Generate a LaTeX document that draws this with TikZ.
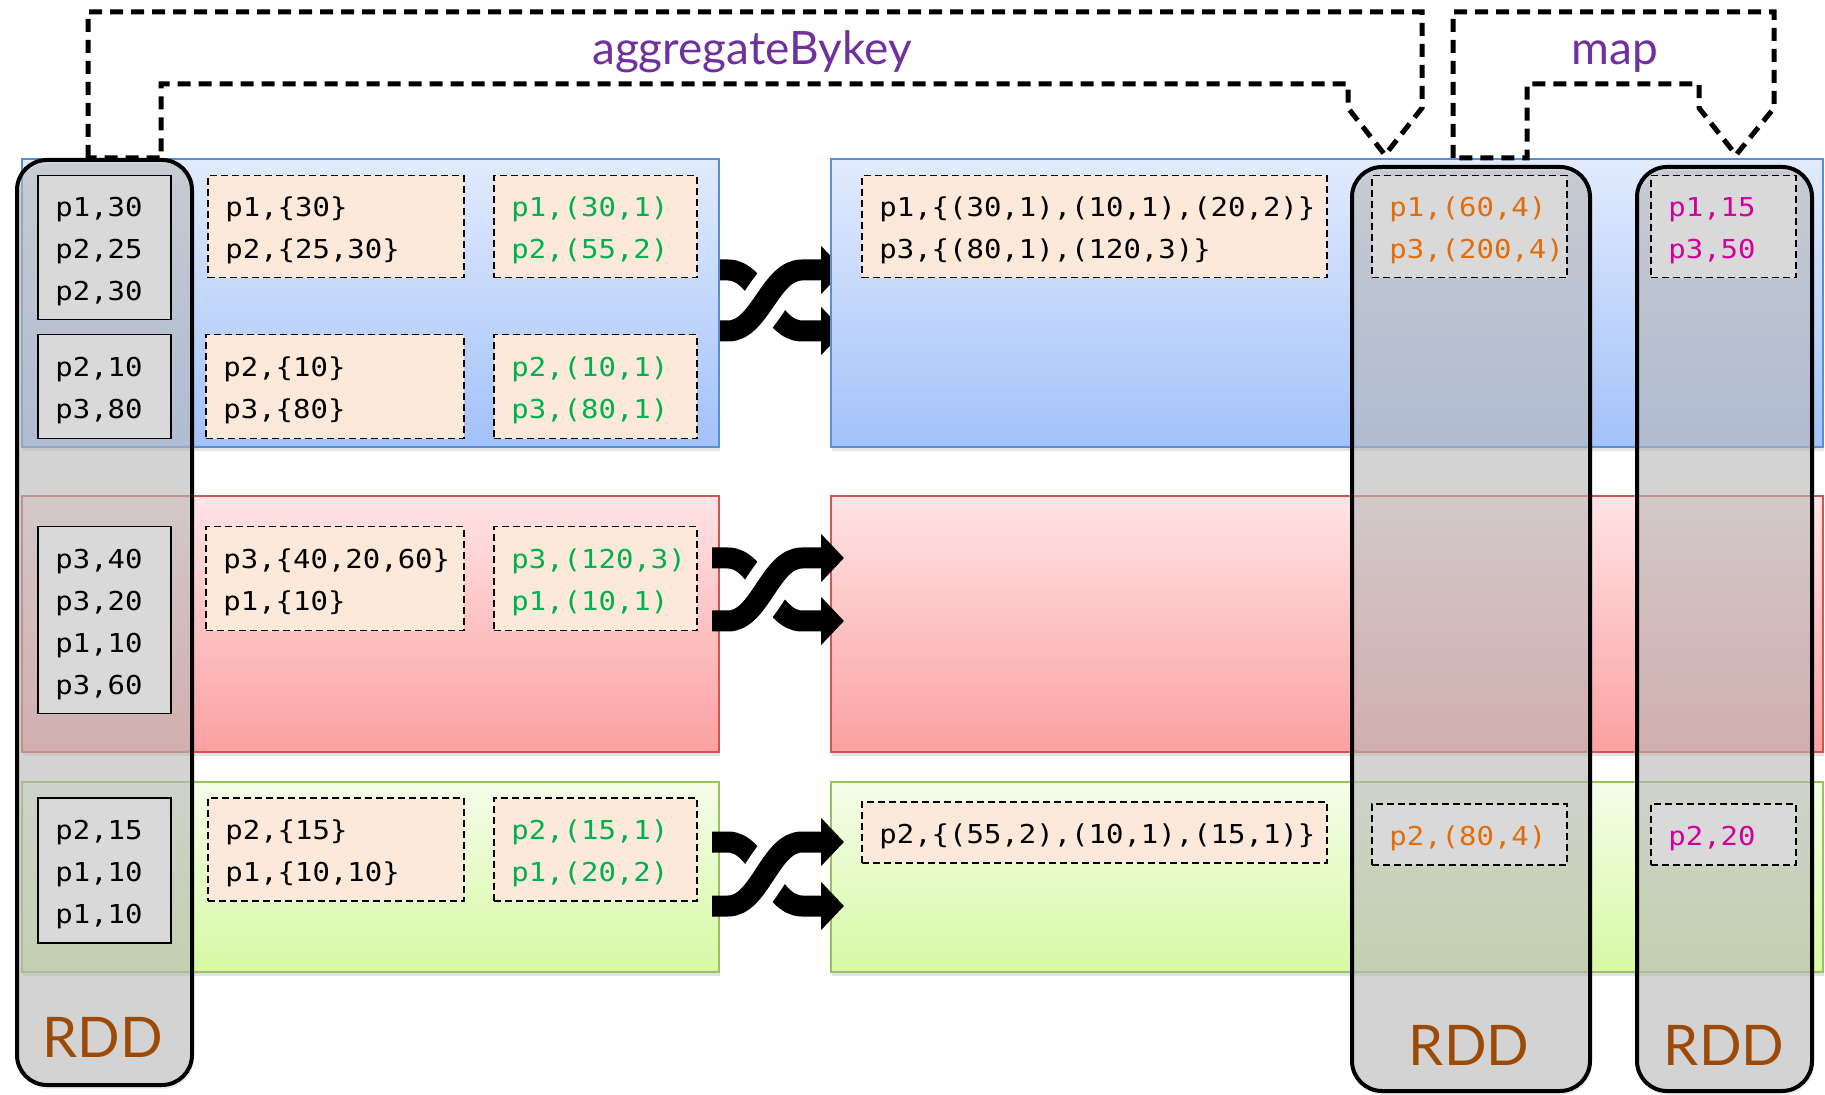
\documentclass[tikz,border=0pt]{standalone}
\usepackage{fontspec}
\usetikzlibrary{arrows.meta,shadows}
\newfontfamily\monof[FakeStretch=1.114]{DejaVu Sans Mono}
\newfontfamily\labf{Lato}
\definecolor{bluetop}{HTML}{E2EBFD}
\definecolor{bluebot}{HTML}{A3C2F9}
\definecolor{blueline}{HTML}{5A8ED0}
\definecolor{redtop}{HTML}{FFE4E6}
\definecolor{redbot}{HTML}{FBA1A1}
\definecolor{redline}{HTML}{D05555}
\definecolor{greentop}{HTML}{F5FDEA}
\definecolor{greenbot}{HTML}{D7F9A4}
\definecolor{greenline}{HTML}{9BC15A}
\definecolor{boxgray}{HTML}{D9D9D9}
\definecolor{peachc}{HTML}{FCE9DA}
\definecolor{greent}{HTML}{00B050}
\definecolor{oranget}{HTML}{E36C09}
\definecolor{magentat}{HTML}{D1009B}
\definecolor{oppurple}{HTML}{7030A0}
\definecolor{rddbrown}{HTML}{9C4A06}
\newcommand\myshuffle[3]{%
  \coordinate (#1a) at (712,#2);
  \coordinate (#1b) at (712,#3);
  \coordinate (#1c) at (844,#2);
  \coordinate (#1d) at (844,#3);
  \draw[shuf] (#1a) -- (728,#2) .. controls (760,#2) and (770,#3) .. (802,#3) -- (#1d);
  \draw[line width=22pt, white] (728,#3) .. controls (760,#3) and (770,#2) .. (802,#2);
  \draw[shuf] (#1b) -- (728,#3) .. controls (760,#3) and (770,#2) .. (802,#2) -- (#1c);
}
\begin{document}
\begin{tikzpicture}[x=0.5pt,y=-0.5pt,
  bandbase/.style={line width=0.8pt, anchor=north west, inner sep=0pt,
     drop shadow={shadow xshift=0.8pt, shadow yshift=-2pt, opacity=0.22}},
  bandb/.style={bandbase, draw=blueline, top color=bluetop, bottom color=bluebot},
  bandr/.style={bandbase, draw=redline, top color=redtop, bottom color=redbot},
  bandg/.style={bandbase, draw=greenline, top color=greentop, bottom color=greenbot},
  rdd/.style={draw, line width=2pt, rounded corners=15pt, fill=black!25, fill opacity=0.55,
     anchor=north west, inner sep=0pt,
     drop shadow={shadow xshift=0.8pt, shadow yshift=-2pt, opacity=0.15}},
  databox/.style={draw, line width=0.75pt, fill=boxgray, anchor=north west, inner sep=0pt},
  dbox/.style={draw, line width=0.75pt, dash pattern=on 3.5pt off 2pt, anchor=north west, inner sep=0pt},
  peach/.style={dbox, fill=peachc},
  grayd/.style={dbox, fill=boxgray},
  txt/.style={font={\monof\fontsize{13}{21}\selectfont}, align=left, anchor=west, inner sep=0pt, xshift=9pt, yshift=-2pt},
  rddlab/.style={font={\labf\fontsize{28}{30}\selectfont}, text=rddbrown, anchor=base, inner sep=0pt},
  oplab/.style={font={\labf\fontsize{23}{25}\selectfont}, text=oppurple, anchor=base, inner sep=0pt},
  dasharr/.style={line width=2.5pt, dash pattern=on 6.5pt off 4pt},
  shuf/.style={line width=10.5pt, -{Triangle[length=11.5pt,width=23.5pt]}}
]
\useasboundingbox (0,0) rectangle (1825,1095);

% shuffle under the blue bands
\myshuffle{sb}{270}{331}

% bands
\node[bandb, minimum width=348.5pt, minimum height=144pt] (bL) at (21,158) {};
\node[bandb, minimum width=496pt, minimum height=144pt] (bR) at (830,158) {};
\node[bandr, minimum width=348.5pt, minimum height=128pt] (rL) at (21,495) {};
\node[bandr, minimum width=496pt, minimum height=128pt] (rR) at (830,495) {};
\node[bandg, minimum width=348.5pt, minimum height=95pt] (gL) at (21,781) {};
\node[bandg, minimum width=496pt, minimum height=95pt] (gR) at (830,781) {};

% shuffles over red and green bands
\myshuffle{sr}{558}{621}
\myshuffle{sg}{842}{906}

% dashed block arrows
\coordinate (a1) at (88,158);
\coordinate (a2) at (161,158);
\coordinate (at) at (1385,155);
\draw[dasharr] (a1) -- (88,12) -- (1422,12) -- (1422,108) -- (at) -- (1348,108) -- (1348,84) -- (161,84) -- (a2) -- cycle;
\coordinate (m1) at (1453,158);
\coordinate (m2) at (1527,158);
\coordinate (mt) at (1736,155);
\draw[dasharr] (m1) -- (1453,12) -- (1774,12) -- (1774,108) -- (mt) -- (1699,108) -- (1699,84) -- (1527,84) -- (m2) -- cycle;

% RDD columns
\node[rdd, minimum width=87.5pt, minimum height=462.5pt] (rdd1) at (15,158) {};
\node[rdd, minimum width=119pt, minimum height=462pt] (rdd2) at (1350,165) {};
\node[rdd, minimum width=87.5pt, minimum height=462pt] (rdd3) at (1635,165) {};

% left data boxes
\node[databox, minimum width=66.5pt, minimum height=72pt] (d1) at (37,175) {};
\node[txt] (td1) at (d1.west) {p1,30\\p2,25\\p2,30};
\node[databox, minimum width=66.5pt, minimum height=52pt] (d2) at (37,334) {};
\node[txt] (td2) at (d2.west) {p2,10\\p3,80};
\node[databox, minimum width=66.5pt, minimum height=93.5pt] (d3) at (37,526) {};
\node[txt] (td3) at (d3.west) {p3,40\\p3,20\\p1,10\\p3,60};
\node[databox, minimum width=66.5pt, minimum height=72.5pt] (d4) at (37,797) {};
\node[txt] (td4) at (d4.west) {p2,15\\p1,10\\p1,10};

% grouped boxes
\node[peach, minimum width=128pt, minimum height=51pt] (g1) at (207,175) {};
\node[txt] (tg1) at (g1.west) {p1,\{30\}\\p2,\{25,30\}};
\node[peach, minimum width=129pt, minimum height=52pt] (g2) at (205,334) {};
\node[txt] (tg2) at (g2.west) {p2,\{10\}\\p3,\{80\}};
\node[peach, minimum width=129pt, minimum height=52pt] (g3) at (205,526) {};
\node[txt] (tg3) at (g3.west) {p3,\{40,20,60\}\\p1,\{10\}};
\node[peach, minimum width=128pt, minimum height=51.5pt] (g4) at (207,797) {};
\node[txt] (tg4) at (g4.west) {p2,\{15\}\\p1,\{10,10\}};

% combined boxes
\node[peach, minimum width=101.5pt, minimum height=51pt] (c1) at (493,175) {};
\node[txt, text=greent] (tc1) at (c1.west) {p1,(30,1)\\p2,(55,2)};
\node[peach, minimum width=101.5pt, minimum height=52pt] (c2) at (493,334) {};
\node[txt, text=greent] (tc2) at (c2.west) {p2,(10,1)\\p3,(80,1)};
\node[peach, minimum width=101.5pt, minimum height=52pt] (c3) at (493,526) {};
\node[txt, text=greent] (tc3) at (c3.west) {p3,(120,3)\\p1,(10,1)};
\node[peach, minimum width=101.5pt, minimum height=51.5pt] (c4) at (493,797) {};
\node[txt, text=greent] (tc4) at (c4.west) {p2,(15,1)\\p1,(20,2)};

% shuffled boxes
\node[peach, minimum width=232.5pt, minimum height=51pt] (s1) at (861,175) {};
\node[txt] (ts1) at (s1.west) {p1,\{(30,1),(10,1),(20,2)\}\\p3,\{(80,1),(120,3)\}};
\node[peach, minimum width=232.5pt, minimum height=30.5pt] (s2) at (861,801) {};
\node[txt] (ts2) at (s2.west) {p2,\{(55,2),(10,1),(15,1)\}};

% aggregated
\node[grayd, minimum width=97.5pt, minimum height=51pt] (o1) at (1371,175) {};
\node[txt, text=oranget] (to1) at (o1.west) {p1,(60,4)\\p3,(200,4)};
\node[grayd, minimum width=97.5pt, minimum height=30.5pt] (o2) at (1371,803) {};
\node[txt, text=oranget] (to2) at (o2.west) {p2,(80,4)};

% mapped
\node[grayd, minimum width=72.5pt, minimum height=51pt] (p1) at (1650,175) {};
\node[txt, text=magentat] (tp1) at (p1.west) {p1,15\\p3,50};
\node[grayd, minimum width=72.5pt, minimum height=30.5pt] (p2) at (1650,803) {};
\node[txt, text=magentat] (tp2) at (p2.west) {p2,20};

% labels
\node[rddlab] (L1) at (103,1057) {RDD};
\node[rddlab] (L2) at (1469,1065) {RDD};
\node[rddlab] (L3) at (1724,1065) {RDD};
\node[oplab] (agg) at (752,65) {aggregateBykey};
\node[oplab] (mapl) at (1615,65) {map};
\end{tikzpicture}
\end{document}
